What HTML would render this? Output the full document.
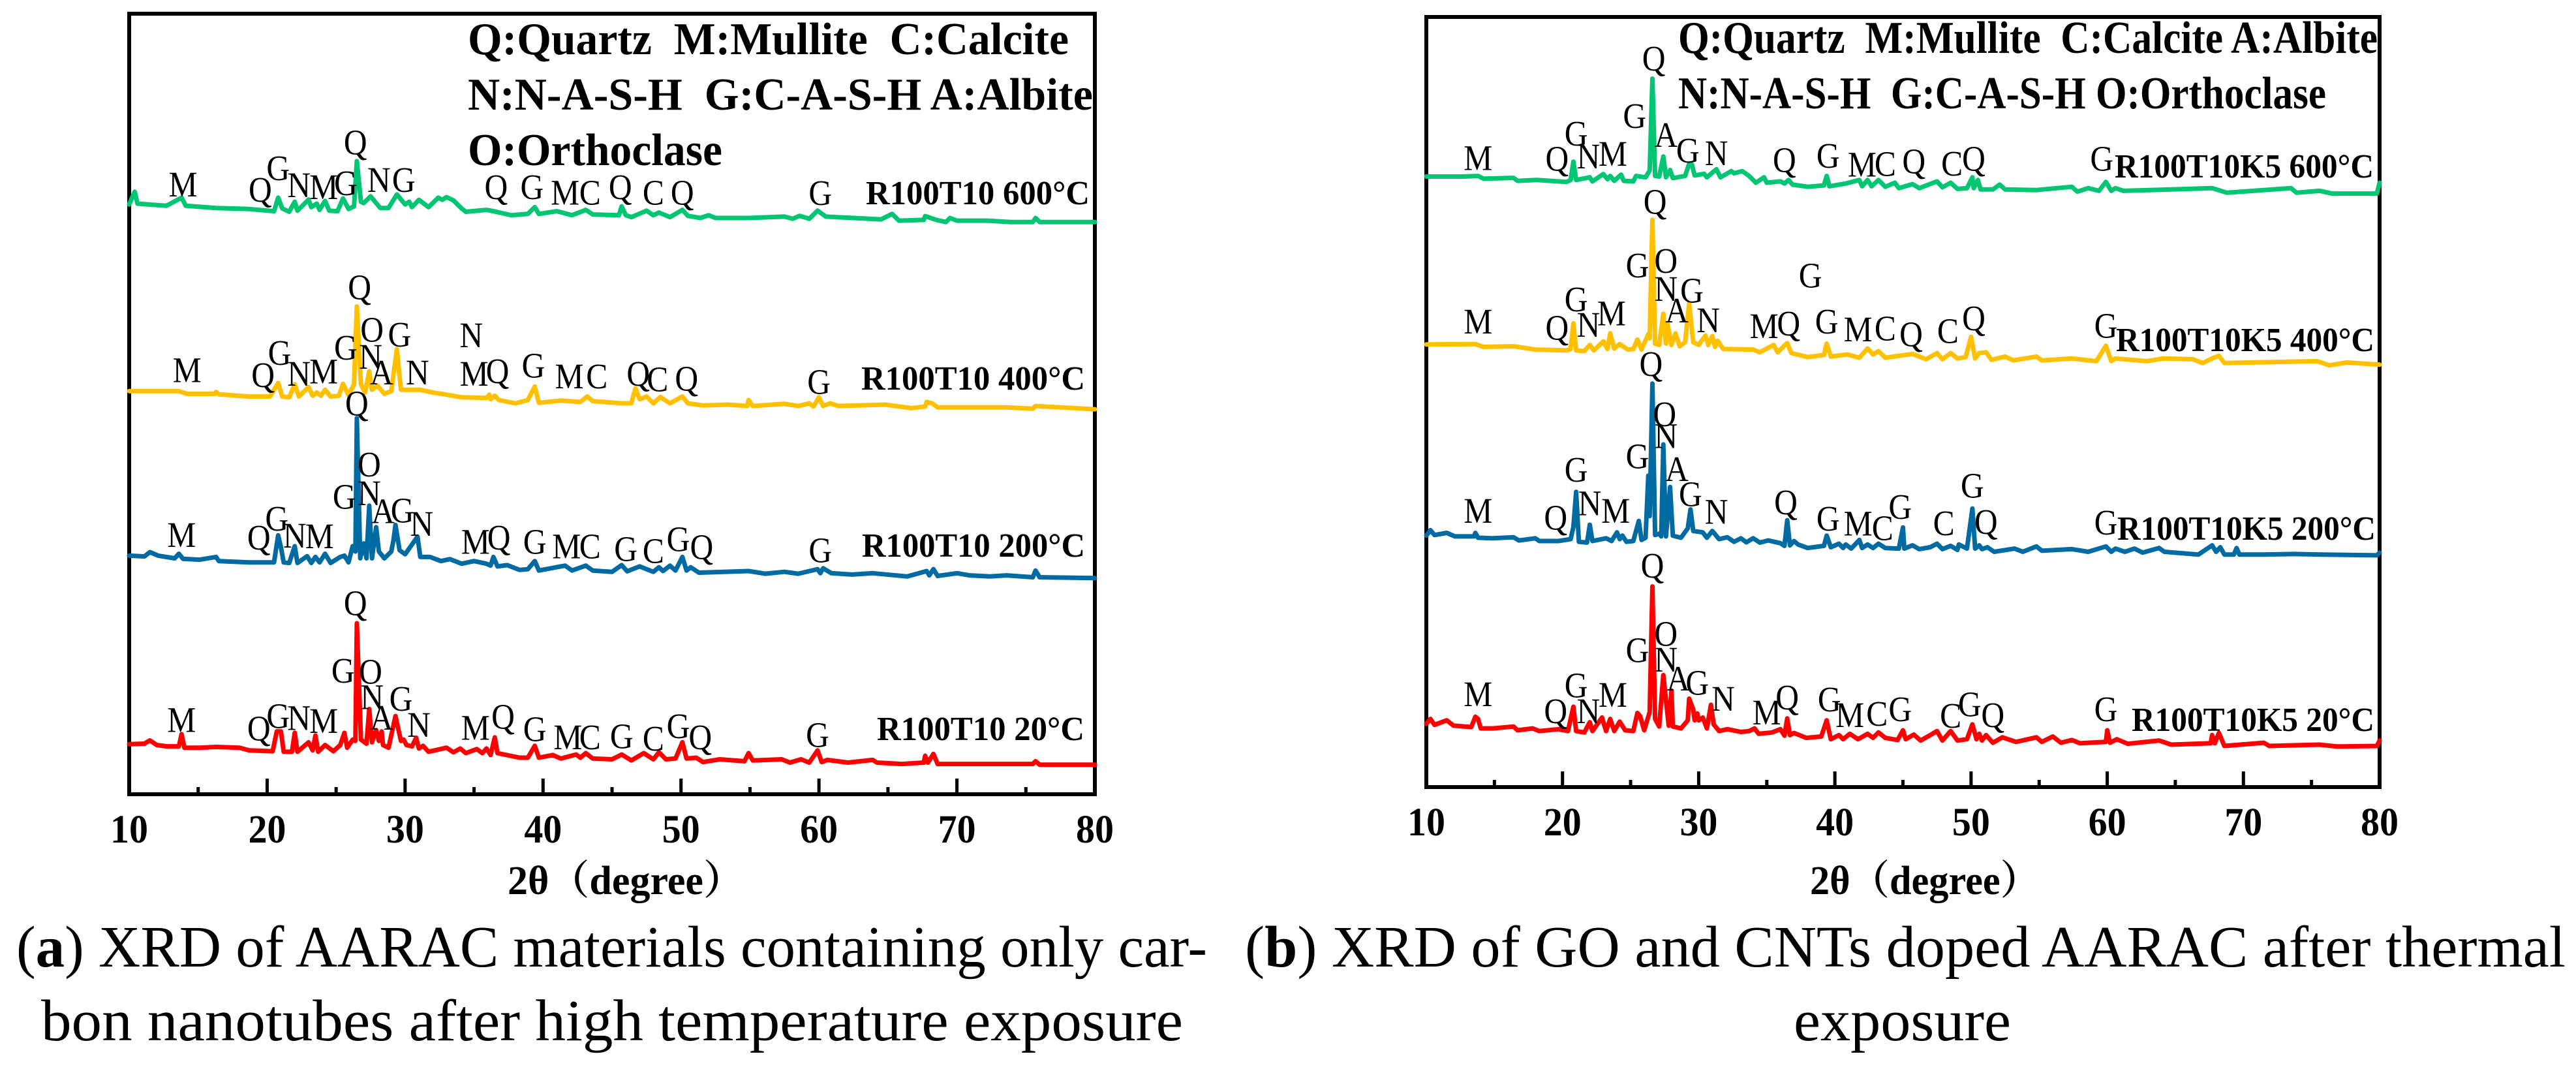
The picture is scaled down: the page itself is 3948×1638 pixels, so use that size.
<!DOCTYPE html>
<html lang="en">
<head>
<meta charset="utf-8">
<title>XRD of AARAC materials after thermal exposure</title>
<style>
html,body{margin:0;padding:0;background:#fff;}
svg{display:block;}
text{font-family:"Liberation Serif","Noto Serif CJK SC",serif;fill:#000;}
.key{font-weight:bold;font-size:70px;}
.sample{font-weight:bold;font-size:52px;}
.tick{font-weight:bold;font-size:61px;text-anchor:middle;}
.title{font-weight:bold;font-size:62px;}
.cap{font-size:90px;}
.peak{font-size:55px;text-anchor:middle;}
</style>
</head>
<body>
<svg id="figure" xmlns="http://www.w3.org/2000/svg" width="3948" height="1638" viewBox="0 0 3948 1638">
<rect x="0" y="0" width="3948" height="1638" fill="#fff"/>
<g id="panelA"></g>
<g id="panelB"></g>

<text class="key" x="717" y="83" textLength="921" lengthAdjust="spacingAndGlyphs" xml:space="preserve">Q:Quartz  M:Mullite  C:Calcite</text>
<text class="key" x="717" y="168" textLength="958" lengthAdjust="spacingAndGlyphs" xml:space="preserve">N:N-A-S-H  G:C-A-S-H A:Albite</text>
<text class="key" x="717" y="253" textLength="390" lengthAdjust="spacingAndGlyphs">O:Orthoclase</text>

<text class="key" x="2572" y="81" textLength="1072" lengthAdjust="spacingAndGlyphs" xml:space="preserve">Q:Quartz  M:Mullite  C:Calcite A:Albite</text>
<text class="key" x="2572" y="166" textLength="993" lengthAdjust="spacingAndGlyphs" xml:space="preserve">N:N-A-S-H  G:C-A-S-H O:Orthoclase</text>

<text class="sample" x="1327" y="313" textLength="343" lengthAdjust="spacingAndGlyphs">R100T10 600°C</text>
<text class="sample" x="1320" y="597" textLength="343" lengthAdjust="spacingAndGlyphs">R100T10 400°C</text>
<text class="sample" x="1321" y="853" textLength="342" lengthAdjust="spacingAndGlyphs">R100T10 200°C</text>
<text class="sample" x="1344" y="1134" textLength="318" lengthAdjust="spacingAndGlyphs">R100T10 20°C</text>

<text class="sample" x="3241" y="272" textLength="397" lengthAdjust="spacingAndGlyphs">R100T10K5 600°C</text>
<text class="sample" x="3243" y="538" textLength="396" lengthAdjust="spacingAndGlyphs">R100T10K5 400°C</text>
<text class="sample" x="3245" y="827" textLength="396" lengthAdjust="spacingAndGlyphs">R100T10K5 200°C</text>
<text class="sample" x="3267" y="1120" textLength="372" lengthAdjust="spacingAndGlyphs">R100T10K5 20°C</text>

<text class="title" x="778" y="1370" textLength="362" lengthAdjust="spacingAndGlyphs">2θ（degree）</text>
<text class="title" x="2774" y="1370" textLength="352" lengthAdjust="spacingAndGlyphs">2θ（degree）</text>

<text class="cap" x="25" y="1481" textLength="1825" lengthAdjust="spacingAndGlyphs">(<tspan font-weight="bold">a</tspan>) XRD of AARAC materials containing only car-</text>
<text class="cap" x="63" y="1594" textLength="1750" lengthAdjust="spacingAndGlyphs">bon nanotubes after high temperature exposure</text>
<text class="cap" x="1908" y="1481" textLength="2024" lengthAdjust="spacingAndGlyphs">(<tspan font-weight="bold">b</tspan>) XRD of GO and CNTs doped AARAC after thermal</text>
<text class="cap" x="2749" y="1594" textLength="333" lengthAdjust="spacingAndGlyphs">exposure</text>
</svg>

<script>
/* Tick values and labels */
const xTickValues = [10,15,20,25,30,35,40,45,50,55,60,65,70,75,80];
const xTickLabels = ['10','20','30','40','50','60','70','80'];

/* Panel (a) series: two-theta in degrees and intensity in arbitrary units */
const a600Deg = [10,10.4,10.6,12.7,13.8,14.1,16.3,18.7,20.5,20.8,21.1,21.6,22,22.2,23,23.2,23.6,23.8,24.2,24.5,25.1,25.5,25.9,26.3,26.5,26.8,27,27.5,28.2,28.8,29.4,30,30.3,30.5,31,31.7,32.4,32.7,33,33.5,34.1,34.4,35.9,36.4,37.7,38.9,39.4,39.7,41,42.1,43.1,43.6,45.5,45.7,46,46.4,47.5,48,48.4,49.2,50.1,50.5,51.4,52,52.5,54.9,57.5,58.1,58.6,59.3,59.9,60.5,62.5,64.5,65.3,65.8,67.6,67.7,68.5,69.2,69.5,70,72.2,73.9,75.5,75.7,76,80];
const a600Int = [2180,2227,2183,2175,2205,2175,2167,2163,2155,2205,2165,2153,2190,2157,2198,2170,2183,2160,2193,2157,2155,2202,2163,2173,2340,2190,2185,2210,2167,2167,2217,2180,2190,2170,2197,2170,2205,2197,2207,2195,2165,2153,2160,2155,2140,2145,2170,2145,2155,2140,2160,2143,2140,2173,2140,2133,2157,2140,2150,2133,2160,2138,2130,2140,2130,2130,2135,2127,2138,2127,2157,2135,2130,2125,2145,2120,2123,2137,2123,2115,2130,2120,2120,2115,2115,2130,2115,2115];

const a400Deg = [10,13.6,14.2,16.2,16.3,16.5,18.7,20.2,20.8,21.1,21.6,22,22.3,23,23.3,23.6,23.9,24.2,24.6,25.2,25.5,25.9,26.3,26.5,26.8,27.1,27.4,27.6,28,28.5,29,29.4,29.7,31.1,32,33,34.1,35.9,36.1,36.2,36.5,36.8,38,38.9,39.4,39.7,41.3,42.7,43.2,43.6,45.7,46.4,46.7,47,47.5,48,48.5,49.2,50.1,50.5,51.6,53.4,54.8,54.9,55.2,57.5,58.5,59.3,59.6,60,60.3,60.8,61.4,64.8,66.7,67.7,67.8,68.2,68.6,71.5,73.6,75.5,75.7,80];
const a400Int = [1490,1490,1480,1480,1487,1478,1470,1470,1520,1470,1467,1515,1470,1505,1473,1485,1473,1495,1470,1473,1517,1475,1515,1803,1515,1485,1563,1495,1510,1480,1490,1645,1495,1495,1485,1477,1467,1465,1477,1460,1473,1457,1445,1457,1507,1447,1455,1450,1470,1453,1445,1445,1500,1460,1470,1445,1468,1445,1470,1445,1437,1440,1435,1457,1435,1443,1435,1445,1433,1467,1435,1445,1435,1440,1427,1433,1450,1445,1430,1430,1430,1425,1435,1423];

const a200Deg = [10,11.1,11.5,12.1,13.3,13.6,13.9,15.1,16.3,16.5,18.7,20.5,20.8,21,21.2,21.6,22,22.2,22.9,23.2,23.5,23.8,24.2,24.6,25.3,25.6,25.9,26.2,26.4,26.5,26.75,27,27.2,27.4,27.6,27.9,28.1,28.5,29,29.15,29.3,29.6,30,30.9,31.1,31.8,32.6,33.25,34.1,35,35.9,36.2,36.4,36.7,37.4,38.3,38.9,39.4,39.7,41.6,42.1,43.1,43.6,45,45.7,46.1,47,47.5,48,48.4,48.7,49.2,49.6,50.1,50.4,50.7,51.3,53.1,54.9,56.1,57.5,58.5,59.9,60.1,60.3,60.9,62.4,63.9,66.4,67.6,67.8,68,68.3,68.6,70,70.9,72.4,73.6,75.5,75.7,76,80];
const a200Int = [882,879,895,882,872,889,870,867,877,862,857,857,957,912,857,855,917,855,880,855,877,857,889,855,877,882,857,917,897,1390,872,927,872,1067,872,987,897,872,897,937,995,902,887,952,877,877,862,869,852,862,852,845,877,842,847,829,832,862,827,845,827,845,827,822,847,824,842,832,822,839,825,845,827,877,827,839,819,822,825,815,822,815,832,817,835,817,812,817,805,822,825,809,832,807,817,809,805,809,802,827,802,799];

const a20Deg = [10,11.1,11.5,12,12.7,13.6,13.8,14,15.1,16.3,18,18.7,20.4,20.7,21,21.2,21.8,22,22.2,23,23.3,23.5,23.7,24.2,24.8,25.3,25.6,25.8,26.2,26.4,26.5,26.8,27.2,27.4,27.6,27.9,28.1,28.3,28.4,28.8,29.3,29.7,29.9,30.1,30.5,30.8,31,31.3,31.7,33,33.5,34,34.4,35.2,35.6,35.9,36.2,36.5,36.7,38.3,38.9,39.4,39.7,40.7,41.3,42.4,42.7,43.1,43.6,45,45.7,46.4,47.3,48,48.4,48.9,49.6,50.1,50.4,51.1,51.6,52.8,54.6,54.9,55.2,57.3,57.9,58.7,59.3,59.9,60.2,60.6,62.1,63.9,64.2,66,67.6,67.7,67.9,68.3,68.6,72.1,75.5,75.7,76,80];
const a20Int = [185,187,199,182,177,177,222,172,172,175,172,162,159,232,232,157,157,227,157,192,162,217,157,182,159,182,227,172,202,197,632,202,187,315,192,237,197,232,182,172,289,197,202,182,177,209,169,179,157,172,155,169,152,167,152,169,145,210,152,135,135,179,135,145,132,147,135,152,132,129,147,125,152,129,155,129,132,192,132,135,119,129,122,152,125,129,117,129,117,162,119,127,117,127,117,112,117,142,117,149,112,112,112,122,109,109];

/* Panel (b) series */
const b600Deg = [10,12.7,13.8,14.2,16.4,16.7,18.1,20.3,20.6,20.8,21,22,22.2,23,23.3,23.5,23.8,24.3,24.5,25.2,25.4,26.1,26.4,26.6,26.8,27.1,27.4,27.6,27.9,28.1,29,29.3,29.5,29.7,30.4,30.6,31.3,31.6,32.4,32.6,33.2,33.7,34.2,34.8,35,36,36.3,36.6,36.9,38,39.2,39.4,39.6,40.8,41.8,42,42.4,42.7,43.2,43.7,44.4,44.7,45.7,46.2,47.5,47.9,48.5,49,49.7,50.1,50.2,50.5,50.7,51.6,52.1,52.5,54.8,57.4,57.8,58.6,59.4,59.9,60.3,60.6,61.2,64.7,67.7,68.8,73.5,73.9,75.6,76.5,79.8,80];
const b600Int = [2258,2258,2260,2250,2253,2242,2245,2238,2245,2313,2245,2255,2240,2267,2248,2260,2242,2265,2242,2240,2260,2255,2280,2620,2260,2258,2332,2255,2282,2252,2260,2305,2302,2262,2268,2255,2285,2255,2278,2270,2278,2260,2235,2255,2235,2240,2232,2245,2228,2220,2225,2260,2222,2232,2245,2222,2245,2222,2245,2220,2235,2215,2230,2215,2240,2218,2235,2212,2215,2255,2215,2245,2210,2210,2228,2210,2208,2220,2202,2215,2205,2238,2205,2215,2205,2210,2215,2198,2215,2198,2205,2195,2195,2235];

const b400Deg = [10,13.6,14.2,16.4,18,20.3,20.6,20.8,21,21.6,22,22.3,23,23.3,23.5,23.8,24.2,24.8,25.2,25.5,25.8,26.3,26.4,26.6,26.8,27.1,27.4,27.6,27.7,28,28.3,28.6,29,29.3,29.6,30,30.5,30.7,31,31.2,31.4,31.8,34,34.5,35.5,35.8,36.5,36.8,38,39.2,39.4,39.7,40.9,41.8,42.4,42.8,43.2,43.7,45.7,46.7,47.5,47.9,48.5,49,49.6,50,50.3,50.6,51.1,51.5,52.5,53.1,54.8,55.2,57.4,59.2,59.9,60.3,60.6,62.9,64.1,66.3,67,67.7,68.2,68.6,75.4,76.3,77.6,80];
const b400Int = [1637,1638,1628,1630,1618,1615,1620,1715,1615,1612,1635,1615,1648,1620,1678,1622,1638,1618,1620,1655,1618,1675,1660,2098,1640,1635,1750,1640,1715,1635,1678,1630,1645,1788,1645,1635,1670,1635,1668,1628,1650,1620,1618,1608,1635,1608,1642,1605,1590,1598,1640,1592,1600,1588,1622,1600,1612,1588,1602,1582,1605,1582,1605,1585,1590,1665,1585,1605,1608,1580,1592,1578,1592,1578,1585,1575,1632,1575,1585,1575,1585,1582,1568,1585,1595,1568,1575,1560,1570,1562];

const b200Deg = [10,10.3,10.6,11.5,12.1,13.5,13.6,13.8,14.9,16.4,16.8,18,18.3,19.7,20.6,20.8,21,21.2,21.8,22,22.2,23.2,23.6,24,24.2,24.4,24.7,25.2,25.6,25.8,26.1,26.3,26.4,26.6,26.8,27.1,27.25,27.4,27.6,27.9,28.1,28.7,29.2,29.4,29.6,30.3,30.6,31,31.5,32.1,32.6,33.1,33.5,34,34.5,35.1,36,36.3,36.5,36.7,37,37.3,38,39.2,39.4,39.7,40.3,40.6,40.8,41.2,41.8,42,42.4,42.8,43.2,43.7,44.7,45,45.1,45.7,46.2,47,47.5,47.9,48.5,49,49.1,49.7,50.1,50.3,50.6,50.8,51.2,51.7,53.2,53.8,54.8,55.2,57.4,58.6,59.9,60.3,60.6,61.3,62,62.6,63.8,64.2,66.7,67.7,68,68.3,68.6,69.3,69.5,69.7,71.5,73.7,75.7,79.8,80];
const b200Int = [930,950,932,940,927,927,940,922,920,924,912,920,910,910,917,962,1092,907,904,970,910,920,910,942,917,930,907,910,984,914,922,1152,1002,1492,932,937,927,1267,927,1110,930,922,957,1027,947,942,922,947,917,924,907,920,905,920,904,912,902,892,987,894,910,897,884,892,930,887,900,884,897,882,914,884,897,884,900,884,882,960,882,894,880,887,900,880,892,877,897,882,1030,882,894,880,887,870,882,870,890,874,880,870,890,870,882,870,882,867,884,870,860,894,870,887,860,860,884,860,860,862,860,857,867];

const b20Deg = [10,10.3,10.6,11.5,12,13.3,13.6,13.8,14,14.9,16.4,16.7,17.8,18.3,19.7,20.4,20.8,21,21.6,22,22.2,22.9,23.2,23.5,23.8,24.2,24.6,25.2,25.5,25.7,26,26.4,26.6,26.8,27.1,27.4,27.6,27.8,28,28.1,28.7,29.2,29.3,29.6,29.7,29.9,30,30.3,30.6,30.9,31.1,31.5,32.1,33.1,33.7,34.1,34.4,35.4,36,36.3,36.5,36.7,37,37.9,39,39.4,39.7,40.3,40.6,41.1,41.7,42.4,42.8,43.2,43.7,44.6,45,45.2,45.8,46.3,47,47.5,47.9,48.5,49,49.7,50.1,50.4,50.6,50.8,51.1,51.6,52.3,53.3,54.8,55.2,56,56.6,57.4,58,59.9,60,60.2,60.7,61.5,63.8,64.7,67.6,67.7,67.9,68.2,68.6,71.5,71.9,75.6,76.9,79.8,80];
const b20Int = [234,252,230,247,227,222,260,252,217,217,224,210,217,207,214,207,297,207,202,240,207,257,207,252,207,242,210,207,274,262,210,277,742,252,224,414,322,227,357,224,217,247,327,287,247,272,247,257,217,304,232,207,214,204,207,217,197,202,214,190,254,192,200,182,187,247,177,192,177,197,177,197,182,202,182,174,210,177,194,172,192,207,172,207,172,177,232,177,197,172,192,164,184,167,184,167,187,164,174,162,167,210,164,177,160,172,157,162,192,162,200,152,164,152,157,150,152,172];

/* Peak annotations: phase letter, two-theta in degrees, intensity level of the letter baseline */
const a600Letters = ['M','Q','G','N','M','G','Q','N','G','Q','G','M','C','Q','C','Q','G'];
const a600LabelDeg = [13.9,19.5,20.8,22.3,24.1,25.7,26.4,28.1,29.9,36.6,39.2,41.6,43.4,45.6,48,50.1,60.1];
const a600LabelInt = [2210,2190,2270,2207,2200,2215,2365,2227,2227,2200,2200,2180,2180,2200,2180,2180,2178];

const a400Letters = ['M','Q','G','N','M','G','Q','O','N','G','A','N','N','M','Q','G','M','C','Q','C','Q','G'];
const a400LabelDeg = [14.2,19.7,20.9,22.3,24.1,25.7,26.7,27.6,27.5,29.6,28.3,30.9,34.8,35,36.7,39.3,41.9,43.9,46.9,48.3,50.4,60];
const a400LabelInt = [1523,1505,1587,1510,1518,1607,1830,1673,1573,1655,1515,1515,1652,1510,1520,1540,1500,1500,1510,1490,1492,1480];

const a200Letters = ['Q','M','Q','G','N','M','G','O','N','A','G','N','M','Q','G','M','C','G','C','G','Q','G'];
const a200LabelDeg = [26.5,13.8,19.4,20.7,22,23.8,25.6,27.4,27.4,28.4,29.8,31.2,35.1,36.8,39.4,41.7,43.4,46,48,49.8,51.5,60.1];
const a200LabelInt = [1400,914,904,975,912,909,1055,1175,1069,1002,1005,955,889,904,889,872,872,862,855,899,870,857];

const a20Letters = ['Q','M','Q','G','N','M','G','O','N','G','A','N','M','Q','G','M','C','G','C','G','Q','G'];
const a20LabelDeg = [26.4,13.8,19.4,20.8,22.3,24.1,25.5,27.5,27.6,29.7,28.3,31,35.1,37.1,39.4,41.8,43.4,45.7,48,49.8,51.4,59.9];
const a20LabelInt = [662,230,199,245,237,227,412,409,315,309,239,212,202,242,197,167,167,170,162,207,167,175];

const b600Letters = ['M','Q','G','N','M','G','Q','A','G','N','Q','G','M','C','Q','C','Q','G'];
const b600LabelDeg = [13.8,19.6,21,21.9,23.7,25.3,26.7,27.6,29.2,31.3,36.3,39.5,42,43.7,45.8,48.6,50.2,59.6];
const b600LabelInt = [2282,2280,2372,2288,2298,2438,2650,2368,2310,2300,2275,2290,2258,2260,2270,2262,2280,2280];

const b400Letters = ['M','Q','G','N','M','G','Q','O','N','G','A','N','G','M','Q','G','M','C','Q','C','Q','G'];
const b400LabelDeg = [13.8,19.6,21,21.9,23.6,25.5,26.8,27.6,27.6,29.5,28.4,30.7,38.2,34.8,36.6,39.4,41.7,43.7,45.6,48.3,50.2,59.9];
const b400LabelInt = [1678,1655,1760,1665,1708,1885,2120,1902,1798,1792,1718,1682,1848,1660,1670,1678,1648,1652,1630,1642,1690,1662];

const b200Letters = ['Q','O','M','Q','G','N','M','G','N','A','G','N','Q','G','M','C','G','C','G','Q','G'];
const b200LabelDeg = [26.5,27.5,13.8,19.5,21,22,23.9,25.5,27.6,28.4,29.4,31.3,36.4,39.5,41.7,43.5,44.8,48,50.1,51.1,59.9];
const b200LabelInt = [1520,1335,977,952,1129,1005,977,1179,1254,1132,1039,974,1009,949,930,914,992,932,1070,937,934];

const b20Letters = ['Q','M','Q','G','N','M','G','O','N','A','G','N','M','Q','G','M','C','G','C','G','Q','G'];
const b20LabelDeg = [26.6,13.8,19.5,21,21.9,23.7,25.5,27.6,27.6,28.5,29.9,31.8,35,36.5,39.6,41.1,43.1,44.8,48.5,49.9,51.6,59.9];
const b20LabelInt = [775,299,237,332,237,297,462,522,427,357,342,282,232,287,280,222,227,244,220,262,222,244];

const SVG_NS = 'http://www.w3.org/2000/svg';

function makeScale(d0, d1, r0, r1) {
  return function (v) { return r0 + (v - d0) * (r1 - r0) / (d1 - d0); };
}

function drawSeries(group, xs, ys, degs, ints, color, name) {
  let d = '';
  for (let i = 0; i < degs.length; i++) {
    d += (i ? 'L' : 'M') + xs(degs[i]).toFixed(1) + ' ' + ys(ints[i]).toFixed(1);
  }
  const path = document.createElementNS(SVG_NS, 'path');
  
  
  path.setAttribute('d', d);
  path.setAttribute('fill', 'none');
  path.setAttribute('stroke', color);
  path.setAttribute('stroke-width', '7');
  path.setAttribute('stroke-linejoin', 'round');
  path.setAttribute('stroke-linecap', 'round');
  group.appendChild(path);
}

function drawPeakLabels(group, xs, ys, letters, degs, ints) {
  for (let i = 0; i < letters.length; i++) {
    const t = document.createElementNS(SVG_NS, 'text');
    
    
    t.setAttribute('class', 'peak');
    t.setAttribute('transform', 'translate(' + xs(degs[i]).toFixed(1) + ' ' + ys(ints[i]).toFixed(1) + ') scale(0.9 1)');
    t.textContent = letters[i];
    group.appendChild(t);
  }
}

function drawFrame(group, xs, top, bottom, labelY, panel) {
  const frame = document.createElementNS(SVG_NS, 'rect');
  
  
  frame.setAttribute('x', xs(10));
  frame.setAttribute('y', top);
  frame.setAttribute('width', xs(80) - xs(10));
  frame.setAttribute('height', bottom - top);
  frame.setAttribute('fill', 'none');
  frame.setAttribute('stroke', '#000');
  frame.setAttribute('stroke-width', '6');
  group.appendChild(frame);
  for (let i = 0; i < xTickValues.length; i++) {
    const v = xTickValues[i];
    const major = v % 10 === 0;
    const tick = document.createElementNS(SVG_NS, 'line');
    
    
    tick.setAttribute('x1', xs(v));
    tick.setAttribute('x2', xs(v));
    tick.setAttribute('y1', bottom);
    tick.setAttribute('y2', bottom - (major ? 24 : 11));
    tick.setAttribute('stroke', '#000');
    tick.setAttribute('stroke-width', '5');
    group.appendChild(tick);
  }
  for (let i = 0; i < xTickLabels.length; i++) {
    const lab = document.createElementNS(SVG_NS, 'text');
    
    
    lab.setAttribute('class', 'tick');
    lab.setAttribute('transform', 'translate(' + xs(Number(xTickLabels[i])) + ' ' + labelY + ') scale(0.95 1)');
    lab.textContent = xTickLabels[i];
    group.appendChild(lab);
  }
}

const GREEN = '#00C673', YELLOW = '#FFC000', BLUE = '#006AA3', RED = '#FF0000';

/* Panel (a) */
const gA = document.getElementById('panelA');
const xA = makeScale(10, 80, 198, 1678);
const yA = makeScale(0, 2885, 1217, 21);
drawFrame(gA, xA, 21, 1217, 1291, 'a');
drawSeries(gA, xA, yA, a600Deg, a600Int, GREEN, 'series-a-600c');
drawSeries(gA, xA, yA, a400Deg, a400Int, YELLOW, 'series-a-400c');
drawSeries(gA, xA, yA, a200Deg, a200Int, BLUE, 'series-a-200c');
drawSeries(gA, xA, yA, a20Deg, a20Int, RED, 'series-a-20c');
drawPeakLabels(gA, xA, yA, a600Letters, a600LabelDeg, a600LabelInt);
drawPeakLabels(gA, xA, yA, a400Letters, a400LabelDeg, a400LabelInt);
drawPeakLabels(gA, xA, yA, a200Letters, a200LabelDeg, a200LabelInt);
drawPeakLabels(gA, xA, yA, a20Letters, a20LabelDeg, a20LabelInt);

/* Panel (b) */
const gB = document.getElementById('panelB');
const xB = makeScale(10, 80, 2186, 3647);
const yB = makeScale(0, 2848, 1206, 26);
drawFrame(gB, xB, 26, 1206, 1280, 'b');
drawSeries(gB, xB, yB, b600Deg, b600Int, GREEN, 'series-b-600c');
drawSeries(gB, xB, yB, b400Deg, b400Int, YELLOW, 'series-b-400c');
drawSeries(gB, xB, yB, b200Deg, b200Int, BLUE, 'series-b-200c');
drawSeries(gB, xB, yB, b20Deg, b20Int, RED, 'series-b-20c');
drawPeakLabels(gB, xB, yB, b600Letters, b600LabelDeg, b600LabelInt);
drawPeakLabels(gB, xB, yB, b400Letters, b400LabelDeg, b400LabelInt);
drawPeakLabels(gB, xB, yB, b200Letters, b200LabelDeg, b200LabelInt);
drawPeakLabels(gB, xB, yB, b20Letters, b20LabelDeg, b20LabelInt);
</script>
</body>
</html>
